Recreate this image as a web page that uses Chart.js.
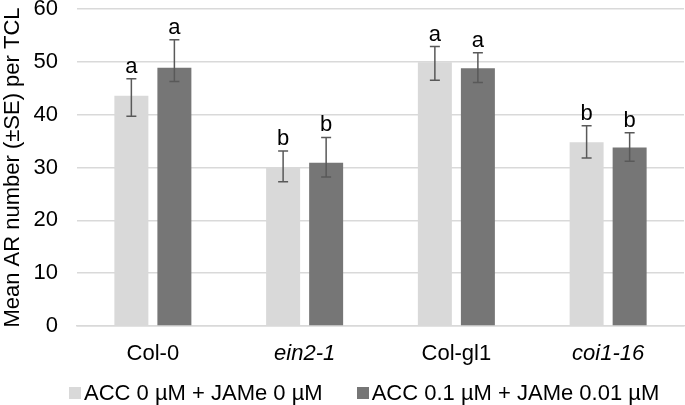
<html>
<head>
<script src="https://cdn.jsdelivr.net/npm/chart.js@4/dist/chart.umd.min.js"></script>
<style>
  body { margin: 0; background: #fff; }
  #wrap { position: relative; width: 685px; height: 405px; }
  #legend {
    position: absolute; left: 69px; top: 382px; display: flex; align-items: center;
    font: 22px 'Liberation Sans', Arial, sans-serif; line-height: 22px; color: #000; white-space: nowrap;
  }
  #legend .item { display: flex; align-items: center; }
  #legend .item + .item { margin-left: 34px; }
  #legend .box { width: 12px; height: 12px; margin-right: 3px; }
</style>
</head>
<body>
<div id="wrap"><canvas id="chart"></canvas><div id="legend"></div></div>
<script>
const categories = ['Col-0', 'ein2-1', 'Col-gl1', 'coi1-16']
const italicCats = [false, true, false, true]

const ctrlMean = [43.6, 30.0, 49.9, 34.8]
const ctrlLow  = [39.7, 27.3, 46.5, 31.8]
const ctrlHigh = [46.8, 33.1, 52.9, 37.9]
const ctrlLetters = ['a', 'b', 'a', 'b']

const trtMean = [48.9, 30.9, 48.8, 33.8]
const trtLow  = [46.3, 28.2, 46.1, 31.2]
const trtHigh = [54.2, 35.7, 51.7, 36.6]
const trtLetters = ['a', 'b', 'a', 'b']

const yTicks = [0, 10, 20, 30, 40, 50, 60]

const FONT = "'Liberation Sans', Arial, sans-serif"
const FS = 22

// draws error bars + significance letters on top of each bar
const errorBars = {
    id: 'errorBars',
    afterDatasetsDraw(chart) {
        const c = chart.ctx
        const y = chart.scales.y
        chart.data.datasets.forEach((ds, i) => {
            const meta = chart.getDatasetMeta(i)
            meta.data.forEach((bar, j) => {
                const top = y.getPixelForValue(ds.errHigh[j])
                const bot = y.getPixelForValue(ds.errLow[j])
                c.save()
                c.strokeStyle = '#595959'
                c.lineWidth = 1.5
                c.beginPath()
                c.moveTo(bar.x, top); c.lineTo(bar.x, bot)
                c.moveTo(bar.x - 5, top); c.lineTo(bar.x + 5, top)
                c.moveTo(bar.x - 5, bot); c.lineTo(bar.x + 5, bot)
                c.stroke()
                c.fillStyle = '#000'
                c.font = FS + 'px ' + FONT
                c.textAlign = 'center'
                c.textBaseline = 'alphabetic'
                c.fillText(ds.letters[j], bar.x, top - 6)
                c.restore()
            })
        })
    }
}

const chart = new Chart(document.getElementById('chart'), {
    type: 'bar',
    data: {
        labels: categories,
        datasets: [
            {
                label: 'ACC 0 µM + JAMe 0 µM',
                data: ctrlMean,
                errLow: ctrlLow, errHigh: ctrlHigh, letters: ctrlLetters,
                backgroundColor: '#d9d9d9'
            },
            {
                label: 'ACC 0.1 µM + JAMe 0.01 µM',
                data: trtMean,
                errLow: trtLow, errHigh: trtHigh, letters: trtLetters,
                backgroundColor: '#767676'
            }
        ]
    },
    options: {
        responsive: true,
        maintainAspectRatio: false,
        animation: false,
        datasets: { bar: { categoryPercentage: 0.567, barPercentage: 0.79 } },
        layout: { padding: { left: 0, right: 1, top: 0, bottom: 35 } },
        scales: {
            x: {
                grid: { display: false, drawTicks: false },
                border: { color: '#d9d9d9', width: 1.5 },
                ticks: {
                    color: '#000',
                    padding: 15,
                    font: (ctx) => ({ family: FONT, size: FS, style: italicCats[ctx.index] ? 'italic' : 'normal' })
                },
                afterFit: (s) => { s.height = 44; s.paddingLeft = 0; s.paddingRight = 0 }
            },
            y: {
                min: 0, max: 60,
                afterBuildTicks: (axis) => { axis.ticks = yTicks.map(v => ({ value: v })) },
                grid: { color: '#d9d9d9', lineWidth: 1.5, drawTicks: false },
                border: { display: false },
                ticks: { color: '#000', padding: 19, font: { family: FONT, size: FS } },
                title: {
                    display: true,
                    text: 'Mean AR number (±SE) per TCL',
                    color: '#000',
                    padding: 0,
                    font: { family: FONT, size: FS }
                },
                afterFit: (s) => { s.width = 77; s.paddingTop = 9; s.paddingBottom = 0 }
            }
        },
        plugins: {
            legend: { display: false },
            tooltip: { enabled: false }
        }
    },
    plugins: [errorBars]
})

// legend built from the chart's datasets
const legend = document.getElementById('legend')
chart.data.datasets.forEach(ds => {
    const item = document.createElement('span')
    item.className = 'item'
    const box = document.createElement('span')
    box.className = 'box'
    box.style.background = ds.backgroundColor
    item.appendChild(box)
    item.appendChild(document.createTextNode(ds.label))
    legend.appendChild(item)
})
</script>
</body>
</html>
